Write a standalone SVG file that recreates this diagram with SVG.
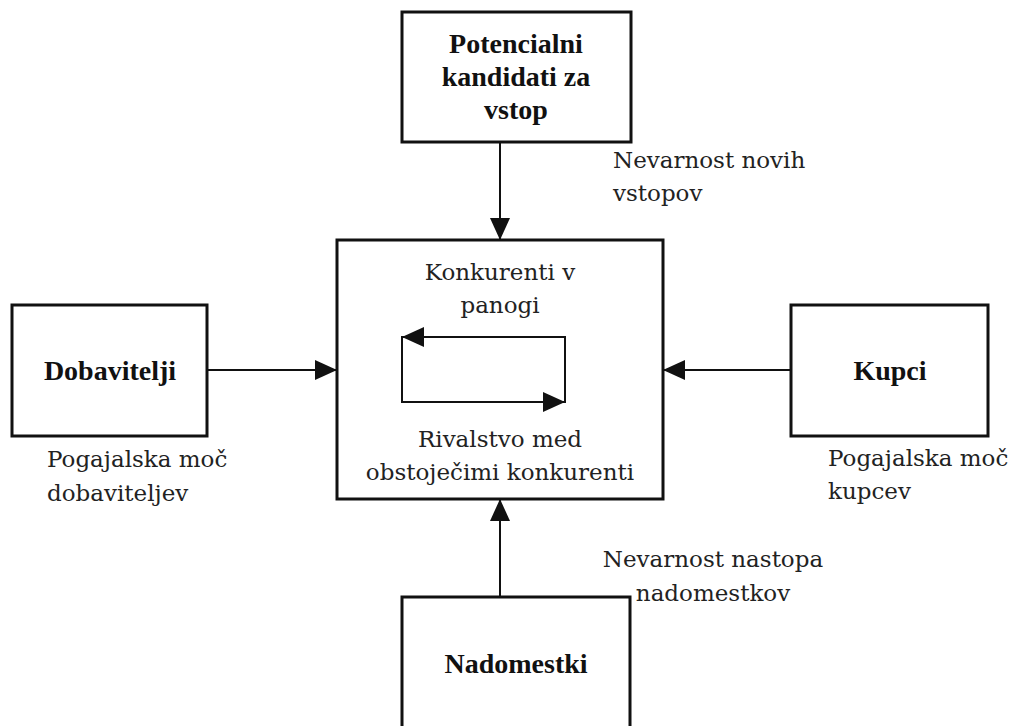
<svg xmlns="http://www.w3.org/2000/svg" width="1014" height="726" viewBox="0 0 1014 726">
<style>
.box{fill:#fff;stroke:#111;stroke-width:3}
.ln{fill:none;stroke:#111;stroke-width:2}
text{font-family:"Liberation Serif","Times New Roman",serif;font-size:28px}
.b{font-weight:bold;fill:#111;text-anchor:middle}
.t{font-family:"DejaVu Serif",serif;font-size:23px;fill:#222}
.c{text-anchor:middle}
</style>
<defs>
<marker id="ah" markerUnits="userSpaceOnUse" markerWidth="22" markerHeight="20" viewBox="0 0 22 20" refX="22" refY="10" orient="auto">
<path d="M0,0 L22,10 L0,20 Z" fill="#111"/>
</marker>
</defs>
<rect width="1014" height="726" fill="#fff"/>
<g id="potencialni">
<rect class="box" x="402" y="12" width="229" height="130"/>
<text class="b" x="516" y="53">Potencialni</text>
<text class="b" x="516" y="86">kandidati za</text>
<text class="b" x="516" y="119">vstop</text>
</g>
<g id="konkurenti">
<rect class="box" x="337" y="240" width="326" height="259"/>
<text class="t c" x="500" y="280">Konkurenti v</text>
<text class="t c" x="500" y="313">panogi</text>
<text class="t c" x="500" y="447">Rivalstvo med</text>
<text class="t c" x="500" y="480">obstoječimi konkurenti</text>
</g>
<g id="dobavitelji">
<rect class="box" x="12" y="305" width="195" height="131"/>
<text class="b" x="110" y="380">Dobavitelji</text>
</g>
<g id="kupci">
<rect class="box" x="791" y="305" width="197" height="131"/>
<text class="b" x="890" y="380">Kupci</text>
</g>
<g id="nadomestki">
<rect class="box" x="402" y="597" width="228" height="140"/>
<text class="b" x="516" y="673">Nadomestki</text>
</g>
<g id="labels">
<text class="t" x="613" y="168">Nevarnost novih</text>
<text class="t" x="613" y="201">vstopov</text>
<text class="t" x="47" y="467">Pogajalska moč</text>
<text class="t" x="47" y="501">dobaviteljev</text>
<text class="t" x="828" y="466">Pogajalska moč</text>
<text class="t" x="828" y="499">kupcev</text>
<text class="t c" x="713" y="567">Nevarnost nastopa</text>
<text class="t c" x="713" y="601">nadomestkov</text>
</g>
<g id="connectors">
<line class="ln" x1="500" y1="142" x2="500" y2="240" marker-end="url(#ah)"/>
<line class="ln" x1="500" y1="597" x2="500" y2="499" marker-end="url(#ah)"/>
<line class="ln" x1="207" y1="370" x2="337" y2="370" marker-end="url(#ah)"/>
<line class="ln" x1="791" y1="370" x2="663" y2="370" marker-end="url(#ah)"/>
<line class="ln" x1="565" y1="337" x2="402" y2="337" marker-end="url(#ah)"/>
<line class="ln" x1="402" y1="336" x2="402" y2="403"/>
<line class="ln" x1="402" y1="402" x2="565" y2="402" marker-end="url(#ah)"/>
<line class="ln" x1="565" y1="336" x2="565" y2="403"/>
</g>
</svg>
